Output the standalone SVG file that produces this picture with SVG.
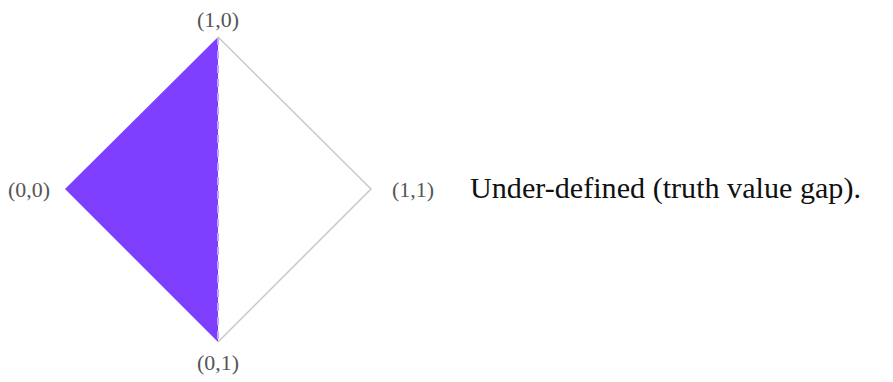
<svg xmlns="http://www.w3.org/2000/svg" width="893" height="382" viewBox="0 0 893 382">
<style>
.lbl{font-family:"Liberation Serif",serif;font-size:21px;fill:#555;text-anchor:middle}
.big{font-family:"Liberation Serif",serif;font-size:29px;fill:#111}
.edge{fill:none;stroke:#c8c8c8;stroke-width:1.5}
</style>
<rect width="893" height="382" fill="#fff"/>
<g id="region">
<polygon points="218,37 65,189 218,342" fill="#7f3fff"/>
<line x1="218" y1="37" x2="218" y2="342" stroke="#c4a8ff" stroke-width="2" stroke-dasharray="8,6"/>
</g>
<g id="connectors">
<polyline class="edge" points="218,37 371,189 218,342"/>
</g>
<g id="n10"><text class="lbl" x="218" y="27" textLength="42" lengthAdjust="spacingAndGlyphs">(1,0)</text></g>
<g id="n00"><text class="lbl" x="29" y="197" textLength="42" lengthAdjust="spacingAndGlyphs">(0,0)</text></g>
<g id="n11"><text class="lbl" x="413" y="197" textLength="42" lengthAdjust="spacingAndGlyphs">(1,1)</text></g>
<g id="n01"><text class="lbl" x="218" y="370" textLength="42" lengthAdjust="spacingAndGlyphs">(0,1)</text></g>
<g id="caption"><text class="big" x="470" y="198" textLength="391" lengthAdjust="spacingAndGlyphs">Under-defined (truth value gap).</text></g>
</svg>
